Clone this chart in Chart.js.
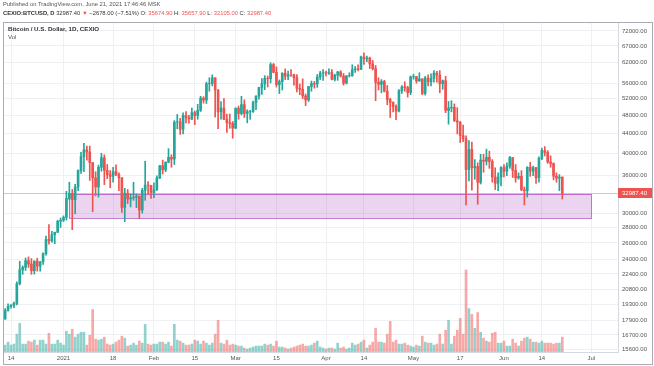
<!DOCTYPE html>
<html>
<head>
<meta charset="utf-8">
<script src="https://cdn.jsdelivr.net/npm/chart.js@4.4.0/dist/chart.umd.min.js"></script>
<style>
  html, body { margin: 0; padding: 0; background: #fff; }
  #wrap { position: relative; width: 654px; height: 366px; overflow: hidden; font-family: Arial, 'Liberation Sans', sans-serif; }
  #chart { position: absolute; left: 0; top: 0; }
  #frame { position: absolute; left: 3px; top: 22px; width: 650px; height: 343px; box-sizing: border-box; border: 1px solid #a9acb4; pointer-events: none; }
  .txt { position: absolute; white-space: nowrap; line-height: 1; }
  #pub { left: 3px; top: 2px; font-size: 5.8px; color: #555; }
  #ohlc { left: 3px; top: 11px; font-size: 5.8px; color: #333; }
  #ohlc b { font-weight: bold; }
  .dn { color: #ef5350; }
  #title { left: 8px; top: 26px; font-size: 6.2px; font-weight: bold; color: #333; }
  #vol { left: 8px; top: 34px; font-size: 6px; color: #555; }
</style>
</head>
<body>
<div id="wrap">
  <canvas id="chart" width="654" height="366"></canvas>
  <div id="frame"></div>
  <div class="txt" id="pub">Published on TradingView.com, June 21, 2021 17:46:46 MSK</div>
  <div class="txt" id="ohlc"><b>CEXIO:BTCUSD, D</b> 32987.40 <span class="dn">▼</span> −2678.00 (−7.51%) O: <span class="dn">35674.90</span> H: <span class="dn">35657.90</span> L: <span class="dn">32105.00</span> C: <span class="dn">32987.40</span></div>
  <div class="txt" id="title">Bitcoin / U.S. Dollar, 1D, CEXIO</div>
  <div class="txt" id="vol">Vol</div>
</div>
<script>
// Daily candles from 11 Dec 2020 (day -21, days counted from 1 Jan 2021) to 21 Jun 2021
const FIRST_DAY = -21;

const OPEN = [
  18545, 18040, 18800, 19170, 19270, 19440, 21370, 22840, 23110, 23870, 23480, 22740, 23820, 23240, 23730, 24690, 26440, 26250, 27040, 27360, 28860,
  28990, 29390, 32190, 32960, 32000, 33990, 36820, 39370, 40670, 40240, 38240, 35540, 34010, 37390, 39150, 36830, 36070, 35790, 36630, 36070, 35550, 30820, 33010, 32100, 32280, 32370, 32560, 30430, 33470, 34320, 34300,
  33110, 33540, 35510, 37690, 36940, 38310, 39230, 38900, 46450, 46530, 44880, 47970, 47440, 47160, 48640, 47950, 49150, 52120, 51640, 55910, 55970, 57490, 54210, 48820, 49700, 47090, 46340, 46190,
  45140, 49630, 48420, 50540, 48440, 48860, 48880, 51010, 52660, 54880, 55860, 57330, 57250, 61260, 59000, 55640, 56430, 58780, 57920, 58340, 58280, 57510, 54650, 54410, 52700, 51700, 55140, 55950, 55790, 57720, 58830,
  58920, 58800, 58950, 57060, 58210, 59130, 57990, 56030, 58040, 58100, 59770, 60020, 59860, 63540, 62970, 63230, 61450, 60090, 56250, 55720, 56470, 53910, 51760, 51090, 50050, 49000, 54030, 55040, 54840, 53560,
  57750, 57830, 56630, 57200, 53330, 57420, 56400, 57350, 58800, 58230, 55860, 56690, 49150, 49720, 49880, 46760, 46450, 43540, 42910, 36960, 40730, 37310, 37530, 34770, 38710, 38490, 39240, 38440, 35690, 34610, 35680,
  37340, 36690, 37570, 39190, 36850, 35520, 35800, 33560, 33400, 37390, 36700, 37340, 35550, 39020, 40530, 40170, 38350, 38090, 35820, 35480, 35674.9
];
const HIGH = [
  18560, 18950, 19400, 19330, 19560, 21560, 23800, 23280, 24170, 24300, 24100, 23850, 24150, 23800, 24780, 26870, 28400, 27480, 27370, 28990, 29300,
  29600, 33300, 34800, 33600, 34450, 36940, 40200, 41950, 41380, 41400, 38260, 36600, 37800, 40000, 39700, 37900, 36800, 37400, 37850, 36400, 35600, 33800, 33600, 32900, 34800, 32900, 32560, 33800, 38500, 34900, 34300,
  34700, 35900, 37700, 38700, 38400, 40900, 39700, 46800, 48200, 47300, 48600, 48900, 48000, 49700, 49000, 50600, 52600, 52500, 56300, 57500, 58300, 57500, 54300, 51300, 52000, 48300, 48300, 46600,
  49800, 50200, 52600, 51700, 49300, 49200, 51400, 52700, 54900, 57300, 58100, 58000, 61800, 61600, 60600, 56900, 58900, 60000, 59400, 59800, 58500, 58400, 55800, 57200, 53200, 55200, 56600, 56500, 58400, 59300, 59800,
  59400, 60000, 59800, 58500, 59300, 59500, 58700, 58100, 58900, 61200, 60700, 61200, 63800, 64800, 63800, 63500, 62500, 61000, 57500, 57000, 56800, 55400, 52100, 51200, 50500, 54300, 55400, 56400, 55200, 58000,
  58500, 57900, 58900, 57200, 57900, 58300, 58600, 59500, 59300, 59500, 56900, 57900, 51300, 51500, 50700, 49800, 46600, 45800, 43500, 42500, 42200, 38800, 38200, 39800, 39800, 40800, 40400, 38800, 37300, 36400, 37500,
  37900, 38200, 39400, 39200, 37900, 36400, 36800, 34000, 37500, 38300, 37600, 37400, 39300, 41000, 41300, 40500, 39500, 38200, 36400, 36100, 35697.9
];
const LOW = [
  17600, 18000, 18720, 19000, 19050, 19300, 21240, 22350, 22770, 23100, 22350, 22370, 22700, 22700, 23440, 24500, 25850, 26100, 25900, 27320, 28000,
  28800, 29000, 32000, 27700, 29900, 33400, 36300, 36600, 38700, 35100, 30200, 32600, 32400, 36700, 34400, 35400, 33900, 34800, 35900, 33400, 30100, 28800, 31400, 30900, 31900, 30800, 29200, 30000, 31900, 32900, 32200,
  32300, 33450, 35400, 36200, 36600, 38200, 37400, 37900, 45000, 43800, 43900, 46300, 46200, 47000, 45900, 47100, 48900, 50900, 50800, 53900, 55300, 47600, 45000, 47100, 47000, 44200, 45100, 43000,
  45000, 47100, 48100, 47500, 46300, 47100, 48700, 49300, 51900, 53100, 54300, 55000, 56100, 58900, 55000, 53300, 54200, 57000, 57000, 57900, 55500, 53700, 53000, 52000, 50300, 51300, 53900, 54700, 54900, 57000, 56800,
  58000, 58400, 56900, 56600, 56800, 57700, 55500, 55800, 57700, 57900, 59000, 59400, 59800, 61300, 62100, 60100, 59700, 51500, 54200, 53500, 53700, 50500, 47500, 48800, 47000, 48800, 53300, 53900, 52400, 53000,
  57100, 56000, 56500, 53000, 52900, 55300, 55300, 56300, 56300, 53500, 54400, 48600, 46000, 48800, 46600, 43900, 42100, 42300, 31200, 35000, 33500, 35300, 31300, 34500, 36500, 37800, 37200, 34800, 33600, 33400, 34200,
  35700, 35900, 37200, 35600, 34800, 35300, 33400, 31200, 32400, 35800, 35900, 34600, 34800, 38800, 39500, 38100, 37400, 35200, 34800, 33400, 32105
];
const CLOSE = [
  18040, 18800, 19170, 19270, 19440, 21370, 22840, 23110, 23870, 23480, 22740, 23820, 23240, 23730, 24690, 26440, 26250, 27040, 27360, 28860, 28990,
  29390, 32190, 32960, 32000, 33990, 36820, 39370, 40670, 40240, 38240, 35540, 34010, 37390, 39150, 36830, 36070, 35790, 36630, 36070, 35550, 30820, 33010, 32100, 32280, 32370, 32560, 30430, 33470, 34320, 34300, 33110,
  33540, 35510, 37690, 36940, 38310, 39230, 38900, 46450, 46530, 44880, 47970, 47440, 47160, 48640, 47950, 49150, 52120, 51640, 55910, 55970, 57490, 54210, 48820, 49700, 47090, 46340, 46190, 45140,
  49630, 48420, 50540, 48440, 48860, 48880, 51010, 52660, 54880, 55860, 57330, 57250, 61260, 59000, 55640, 56430, 58780, 57920, 58340, 58280, 57510, 54650, 54410, 52700, 51700, 55140, 55950, 55790, 57720, 58830, 58920,
  58800, 58950, 57060, 58210, 59130, 57990, 56030, 58040, 58100, 59770, 60020, 59860, 63540, 62970, 63230, 61450, 60090, 56250, 55720, 56470, 53910, 51760, 51090, 50050, 49000, 54030, 55040, 54840, 53560, 57750,
  57830, 56630, 57200, 53330, 57420, 56400, 57350, 58800, 58230, 55860, 56690, 49150, 49720, 49880, 46760, 46450, 43540, 42910, 36960, 40730, 37310, 37530, 34770, 38710, 38490, 39240, 38440, 35690, 34610, 35680, 37340,
  36690, 37570, 39190, 36850, 35520, 35800, 33560, 33400, 37390, 36700, 37340, 35550, 39020, 40530, 40170, 38350, 38090, 35820, 35480, 35650, 32987.4
];
// volume, arbitrary units (read as bar heights)
const VOLUME = [
  8, 7, 10, 7, 8, 18, 29, 8, 8, 11, 10, 12, 7, 12, 12, 8, 19, 8, 8, 12, 9,
  7, 21, 18, 23, 15, 18, 20, 20, 7, 17, 43, 13, 12, 13, 15, 8, 7, 8, 10, 12, 16, 14, 6, 7, 9, 7, 11, 9, 28, 8, 7,
  8, 8, 10, 10, 8, 10, 6, 28, 12, 11, 9, 7, 7, 8, 12, 11, 8, 11, 9, 7, 9, 18, 32, 9, 8, 12, 7, 8,
  7, 6, 6, 4, 3, 4, 5, 6, 6, 6, 8, 7, 8, 6, 11, 5, 5, 4, 3, 4, 5, 6, 7, 8, 6, 6, 7, 9, 11, 5, 4,
  3, 4, 4, 3, 9, 4, 5, 3, 4, 9, 7, 8, 10, 12, 4, 7, 10, 24, 10, 10, 9, 18, 31, 10, 12, 8, 8, 9, 7, 6,
  5, 7, 6, 16, 10, 9, 9, 7, 8, 18, 8, 22, 32, 8, 16, 22, 34, 18, 83, 44, 38, 24, 40, 20, 14, 11, 10, 19, 20, 9, 9,
  11, 6, 6, 13, 9, 6, 11, 14, 15, 13, 10, 10, 9, 11, 9, 9, 9, 8, 9, 9, 15
];

const X_TICK_DAYS   = [-18, 0, 17, 31, 45, 59, 73, 90, 103, 120, 136, 151, 164, 181];
const X_TICK_LABELS = ['14', '2021', '18', 'Feb', '15', 'Mar', '15', 'Apr', '14', 'May', '17', 'Jun', '14', 'Jul'];
const Y_TICKS = [15600, 16700, 17900, 19300, 20800, 22400, 24000, 26000, 28000, 30000,
                 36000, 40000, 44000, 48000, 52000, 56000, 62000, 67000, 72000];

const LAST_PRICE = 32987.4;
// support zone drawn on the chart
const ZONE_FROM = 2, ZONE_TO = 181, ZONE_LOW = 29300, ZONE_HIGH = 32900;

const UP = '#26a69a', DOWN = '#ef5350';
const UP_VOL = 'rgba(38,166,154,0.5)', DOWN_VOL = 'rgba(239,83,80,0.5)';
const FONT = { family: "Arial, 'Liberation Sans', sans-serif", size: 6 };

const isUp = i => CLOSE[i] >= OPEN[i];
const candleColors = CLOSE.map((c, i) => isUp(i) ? UP : DOWN);
const volColors = CLOSE.map((c, i) => isUp(i) ? UP_VOL : DOWN_VOL);

const wicks  = HIGH.map((h, i) => ({ x: FIRST_DAY + i, y: [LOW[i], h] }));
const bodies = OPEN.map((o, i) => ({ x: FIRST_DAY + i, y: [o, CLOSE[i]] }));
const vols   = VOLUME.map((v, i) => ({ x: FIRST_DAY + i, y: v }));

const overlay = {
  id: 'overlay',
  beforeDatasetsDraw(chart) {
    const { ctx, chartArea: a, scales: { x, y } } = chart;
    const x0 = Math.round(x.getPixelForValue(ZONE_FROM)), x1 = Math.round(x.getPixelForValue(ZONE_TO));
    const y0 = Math.round(y.getPixelForValue(ZONE_HIGH)), y1 = Math.round(y.getPixelForValue(ZONE_LOW));
    ctx.save();
    ctx.fillStyle = 'rgba(156,39,176,0.2)';
    ctx.fillRect(x0, y0, x1 - x0, y1 - y0);
    ctx.strokeStyle = 'rgba(156,39,176,0.6)';
    ctx.lineWidth = 1;
    ctx.strokeRect(x0 + 0.5, y0 + 0.5, x1 - x0, y1 - y0);
    // last price line
    const py = Math.round(y.getPixelForValue(LAST_PRICE)) + 0.5;
    ctx.strokeStyle = 'rgba(120,123,134,0.4)';
    ctx.beginPath();
    ctx.moveTo(a.left, py);
    ctx.lineTo(a.right, py);
    ctx.stroke();
    ctx.restore();
  },
  afterDraw(chart) {
    const { ctx, chartArea: a, scales: { y } } = chart;
    const py = y.getPixelForValue(LAST_PRICE);
    ctx.save();
    ctx.fillStyle = DOWN;
    ctx.fillRect(a.right, Math.round(py) - 5, 34, 10);
    ctx.fillStyle = '#fff';
    ctx.font = `${FONT.size}px ${FONT.family}`;
    ctx.textBaseline = 'middle';
    ctx.textAlign = 'left';
    ctx.fillText(LAST_PRICE.toFixed(2), a.right + 4, Math.round(py) + 0.5);
    ctx.restore();
  }
};

new Chart(document.getElementById('chart'), {
  type: 'bar',
  data: {
    datasets: [
      { data: wicks,  backgroundColor: candleColors, barThickness: 1, grouped: false, order: 1 },
      { data: bodies, backgroundColor: candleColors, barThickness: 2, grouped: false, order: 0 },
      { data: vols, yAxisID: 'yv', backgroundColor: volColors, barThickness: 2, grouped: false, order: 2 }
    ]
  },
  options: {
    responsive: false,
    animation: false,
    layout: { padding: { left: 4, top: 23, right: 0, bottom: 0 } },
    plugins: { legend: { display: false }, tooltip: { enabled: false } },
    scales: {
      x: {
        type: 'linear', min: -20.4, max: 190.1, offset: false, bounds: 'data',
        grid: { color: '#eef0f4', offset: false, drawTicks: false },
        border: { display: true, color: '#d5d8de' },
        ticks: {
          autoSkip: false, maxRotation: 0, padding: 3, font: FONT, color: '#555',
          callback: v => X_TICK_LABELS[X_TICK_DAYS.indexOf(v)] ?? ''
        },
        afterBuildTicks: s => { s.ticks = X_TICK_DAYS.map(v => ({ value: v })); },
        afterFit: s => { s.height = 14; }
      },
      y: {
        type: 'logarithmic', position: 'right', min: 15385, max: 74820, bounds: 'data',
        grid: { color: '#eef0f4', drawTicks: false },
        border: { display: true, color: '#d5d8de' },
        ticks: { autoSkip: false, padding: 4, font: FONT, color: '#555', callback: v => Number(v).toFixed(2) },
        afterBuildTicks: s => { s.ticks = Y_TICKS.map(v => ({ value: v })); },
        afterFit: s => { s.width = 36; }
      },
      yv: { type: 'linear', display: false, min: 0, max: 333 }
    }
  },
  plugins: [overlay]
});
</script>
</body>
</html>
